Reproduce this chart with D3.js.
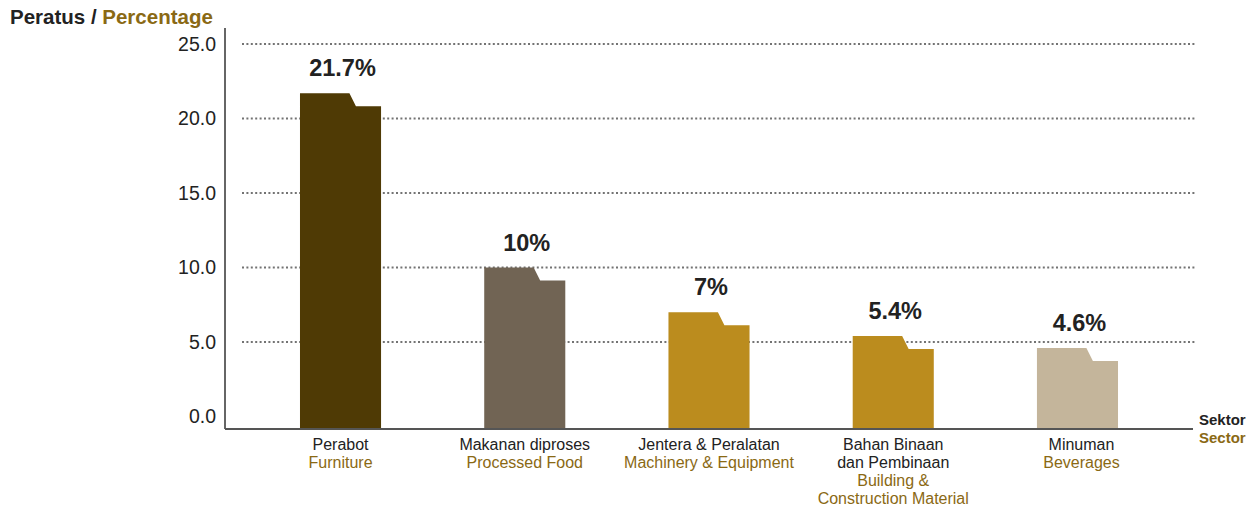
<!DOCTYPE html>
<html>
<head>
<meta charset="utf-8">
<script src="https://cdn.jsdelivr.net/npm/d3@7"></script>
<style>
  html, body { margin: 0; padding: 0; background: #fff; }
  svg { display: block; font-family: "Liberation Sans", Arial, Helvetica, sans-serif; }
</style>
</head>
<body>
<svg id="chart" width="1255" height="510"></svg>
<script>
// Sector shares (percent)
const sectors = ["Furniture", "Processed Food", "Machinery & Equipment", "Building & Construction Material", "Beverages"];
const values = [21.7, 10, 7, 5.4, 4.6];
const valueLabels = ["21.7%", "10%", "7%", "5.4%", "4.6%"];
const labelsMalay = [["Perabot"], ["Makanan diproses"], ["Jentera & Peralatan"], ["Bahan Binaan", "dan Pembinaan"], ["Minuman"]];
const labelsEnglish = [["Furniture"], ["Processed Food"], ["Machinery & Equipment"], ["Building &", "Construction Material"], ["Beverages"]];
const barColors = ["#4f3a05", "#716454", "#bb8c1e", "#bb8c1e", "#c4b59b"];
const yTicks = [0, 5, 10, 15, 20, 25];

const gold = "#8a6914";
const ink = "#222222";

const svg = d3.select("#chart");

const axisX0 = 225, axisX1 = 1193, axisY = 429;

const x = d3.scaleBand()
  .domain(sectors)
  .range([axisX0, axisX1])
  .paddingInner(0.56)
  .paddingOuter(0.407);

const y = d3.scaleLinear()
  .domain([0, 25])
  .range([416.5, 44]);

// Dotted gridlines
svg.append("g")
  .selectAll("line")
  .data(yTicks.filter(d => d > 0))
  .join("line")
  .attr("x1", 242)
  .attr("x2", 1195)
  .attr("y1", d => y(d))
  .attr("y2", d => y(d))
  .attr("stroke", "#737373")
  .attr("stroke-width", 2)
  .attr("stroke-dasharray", "2 2.4");

// Y axis
const yAxis = d3.axisLeft(y)
  .tickValues(yTicks)
  .tickFormat(d3.format(".1f"))
  .tickSize(0)
  .tickPadding(9);

const gy = svg.append("g")
  .attr("transform", `translate(${axisX0},0)`)
  .call(yAxis);
gy.select(".domain").remove();
gy.selectAll("text")
  .attr("fill", ink)
  .style("font-size", "19.5px")
  .style("font-family", "'Liberation Sans', Arial, sans-serif");

svg.append("line")
  .attr("x1", axisX0).attr("x2", axisX0)
  .attr("y1", 28).attr("y2", axisY)
  .attr("stroke", "#333").attr("stroke-width", 1.5);

// Bars with a folder-tab step at the top
const drop = 13;
function barPath(d, i) {
  const x0 = x(sectors[i]);
  const w = x.bandwidth();
  const x1 = x0 + w;
  const top = y(d);
  return `M${x0},${axisY} L${x0},${top} L${x0 + 0.61 * w},${top} L${x0 + 0.69 * w},${top + drop} L${x1},${top + drop} L${x1},${axisY} Z`;
}

svg.append("g")
  .selectAll("path")
  .data(values)
  .join("path")
  .attr("d", barPath)
  .attr("fill", (d, i) => barColors[i]);

// Value labels
svg.append("g")
  .selectAll("text")
  .data(values)
  .join("text")
  .attr("x", (d, i) => x(sectors[i]) + x.bandwidth() / 2 + 2)
  .attr("y", d => y(d) - 17)
  .attr("text-anchor", "middle")
  .attr("fill", ink)
  .style("font-size", "23.5px")
  .style("font-weight", "bold")
  .text((d, i) => valueLabels[i]);

// X axis line
svg.append("line")
  .attr("x1", axisX0).attr("x2", axisX1)
  .attr("y1", axisY).attr("y2", axisY)
  .attr("stroke", "#555").attr("stroke-width", 2);

// Category labels (Malay then English)
const cat = svg.append("g")
  .selectAll("text")
  .data(sectors)
  .join("text")
  .attr("text-anchor", "middle")
  .style("font-size", "16px");

cat.each(function(d, i) {
  const t = d3.select(this);
  const cx = x(d) + x.bandwidth() / 2 + (i === 4 ? 4 : 0);
  const lines = labelsMalay[i].map(s => ({ s, c: ink }))
    .concat(labelsEnglish[i].map(s => ({ s, c: gold })));
  lines.forEach((l, k) => {
    t.append("tspan")
      .attr("x", cx)
      .attr("y", 450 + k * 18)
      .attr("fill", l.c)
      .text(l.s);
  });
});

// Axis titles
const title = svg.append("text")
  .attr("x", 10)
  .attr("y", 24)
  .style("font-size", "20.5px")
  .style("font-weight", "bold");
title.append("tspan").attr("fill", ink).text("Peratus / ");
title.append("tspan").attr("fill", gold).text("Percentage");

const sect = svg.append("text")
  .attr("x", 1199)
  .style("font-size", "15px")
  .style("font-weight", "bold");
sect.append("tspan").attr("x", 1199).attr("y", 425).attr("fill", ink).text("Sektor");
sect.append("tspan").attr("x", 1199).attr("y", 443).attr("fill", gold).text("Sector");
</script>
</body>
</html>
